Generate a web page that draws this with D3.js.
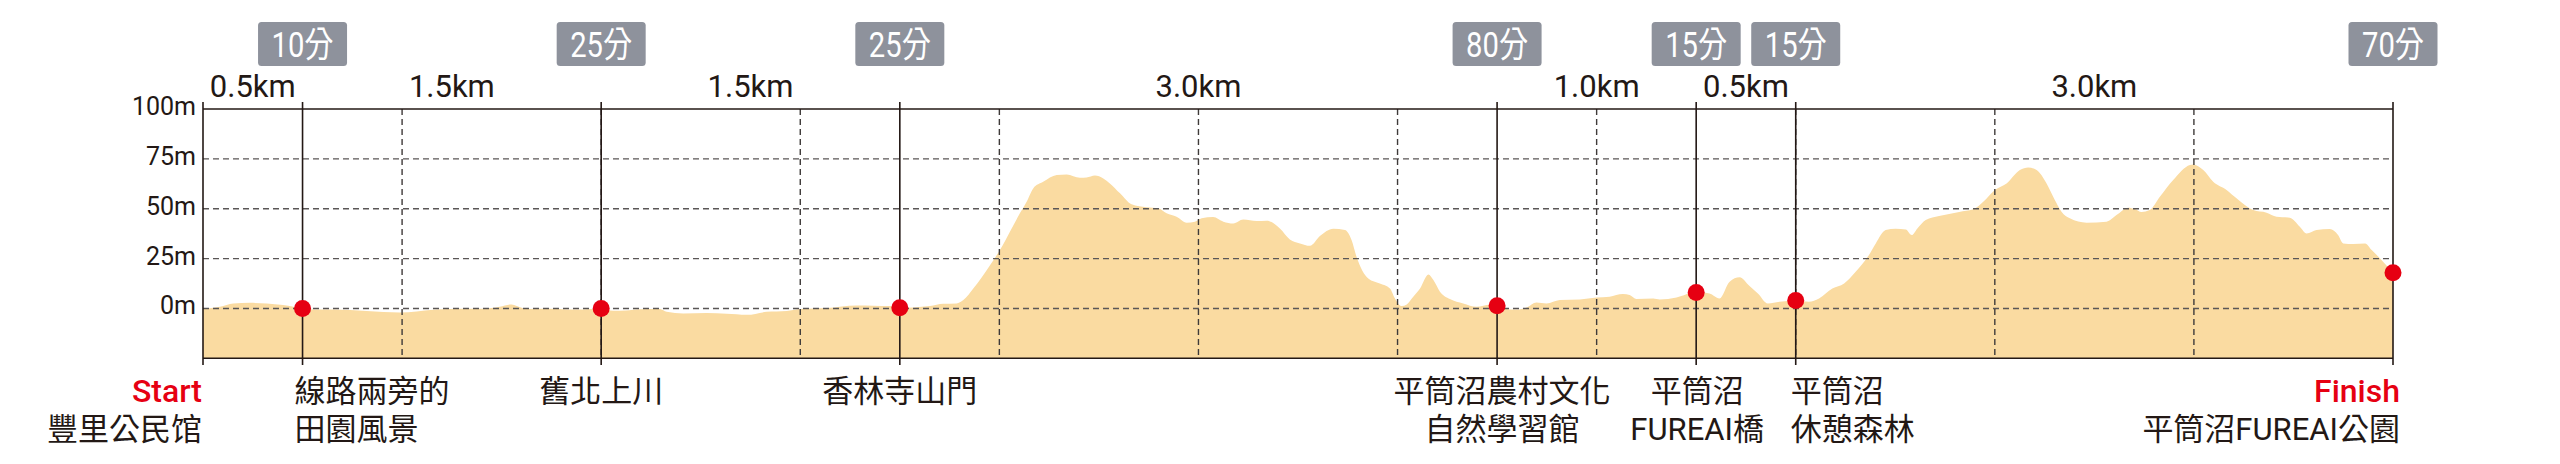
<!DOCTYPE html>
<html>
<head>
<meta charset="utf-8">
<script src="https://cdn.jsdelivr.net/npm/d3@7"></script>
<style>
  html, body { margin: 0; padding: 0; background: #ffffff; }
  svg { display: block; }
  text { font-family: Roboto, "Noto Sans CJK TC", sans-serif; }
</style>
</head>
<body>
<svg id="chart" width="2560" height="464"></svg>
<script>
// ---------------- DATA ----------------
// elevation profile: distance (km) and elevation (m)
const profileKm = [
  0.00, 0.085, 0.152, 0.236, 0.32, 0.403, 0.454, 0.50, 0.554, 0.655, 0.738, 0.822, 0.906, 0.989,
  1.073, 1.157, 1.24, 1.324, 1.408, 1.49, 1.55, 1.576, 1.626, 1.743, 1.827, 1.91, 2.0, 2.06,
  2.125, 2.195, 2.295, 2.329, 2.412, 2.53, 2.63, 2.731, 2.831, 2.932, 2.998, 3.133, 3.283, 3.367,
  3.45, 3.5, 3.568, 3.651, 3.718, 3.785, 3.819, 3.869, 3.953, 4.003, 4.053, 4.103, 4.137, 4.17,
  4.22, 4.288, 4.338, 4.405, 4.438, 4.48, 4.522, 4.555, 4.606, 4.664, 4.74, 4.798, 4.84, 4.89,
  4.941, 4.982, 5.016, 5.074, 5.125, 5.175, 5.225, 5.292, 5.343, 5.409, 5.459, 5.51, 5.56, 5.61,
  5.677, 5.736, 5.769, 5.794, 5.853, 5.911, 5.962, 5.987, 6.021, 6.046, 6.079, 6.113, 6.155, 6.18,
  6.213, 6.263, 6.33, 6.397, 6.464, 6.5, 6.564, 6.6, 6.648, 6.698, 6.748, 6.815, 6.916, 6.999,
  7.065, 7.132, 7.166, 7.2, 7.284, 7.317, 7.401, 7.5, 7.567, 7.617, 7.668, 7.718, 7.768, 7.81,
  7.86, 7.919, 8.0, 8.066, 8.117, 8.184, 8.243, 8.301, 8.368, 8.402, 8.452, 8.502, 8.553, 8.583,
  8.611, 8.653, 8.72, 8.821, 8.892, 8.942, 9.0, 9.059, 9.126, 9.168, 9.21, 9.26, 9.302, 9.335,
  9.377, 9.461, 9.561, 9.611, 9.67, 9.703, 9.737, 9.778, 9.829, 9.896, 9.98, 9.996, 10.047, 10.097,
  10.164, 10.214, 10.298, 10.365, 10.415, 10.482, 10.532, 10.566, 10.616, 10.683, 10.724, 10.75, 10.8, 10.86,
  10.893, 10.935, 11.0
];
const profileElev = [
  -0.3, 0.8, 2.5, 2.8, 2.5, 1.7, 0.8, 0.0, -0.5, -0.5, -0.8, -1.3, -1.8, -2.0,
  -1.5, -0.7, -0.3, -0.2, -0.2, 0.8, 2.0, 1.2, -0.3, -0.2, -0.5, -0.5, 0.0, -1.2,
  -1.0, -0.4, -0.3, -1.7, -2.5, -2.3, -2.7, -3.2, -1.7, -1.3, -0.3, 0.2, 1.5, 1.4,
  1.2, 0.3, 0.5, 1.2, 2.3, 2.5, 4.2, 10, 21.7, 29.3, 38.5, 47.7, 53.5, 60.2,
  63.5, 66.9, 67.2, 65.5, 65.6, 66.6, 65.2, 62.7, 57.7, 52.2, 50.7, 50.2, 47.7, 46,
  43, 43.5, 45.2, 45.8, 43.5, 42.6, 44.6, 43.8, 44, 40.1, 34.6, 32.6, 31.4, 36.3,
  40, 39.3, 34.3, 25.9, 15, 12.5, 10, 5, 1.2, 2, 5.9, 10, 17, 14.2,
  8.4, 4.7, 2.5, 0.8, 1.8, 1.5, -0.5, -0.5, 0.5, 3, 2.5, 4.2, 4.5, 5.5,
  5.9, 7.2, 6.7, 4.7, 5, 4.5, 5.5, 8.2, 7.5, 5, 13.4, 15.6, 11.2, 7.5,
  2.5, 3.3, 3.8, 3.3, 5, 10, 12.5, 18.4, 26.8, 32.6, 39.3, 40, 39.6, 36.8,
  40.1, 44.3, 46.3, 48.4, 49.7, 53.5, 59.4, 62.7, 69.4, 70.7, 69.4, 62.7, 54.3, 48.5,
  45.2, 43, 43.5, 46.8, 50.5, 49.8, 48.3, 49.3, 56, 64.4, 71.9, 72.2, 69.4, 63.5,
  59.4, 55.2, 49.3, 48, 46, 45.5, 41, 37.6, 39.3, 39.8, 36.8, 32.6, 32.3, 32.6,
  29.3, 25.1, 17.9
];

// checkpoints
const markerKm   = [0.5, 2.0, 3.5, 6.5, 7.5, 8.0, 11.0];
const markerTime = ["10分", "25分", "25分", "80分", "15分", "15分", "70分"];
const markerElev = [0.0, 0.0, 0.3, 1.3, 8.0, 4.0, 17.9];

// segment distances (between consecutive checkpoints, starting at Start)
const segmentLabels = ["0.5km", "1.5km", "1.5km", "3.0km", "1.0km", "0.5km", "3.0km"];

// place names (first entry = Start)
const placeKm    = [0, 0.5, 2.0, 3.5, 6.5, 7.5, 8.0, 11.0];
const placeLine1 = ["Start", "線路兩旁的", "舊北上川", "香林寺山門", "平筒沼農村文化", "平筒沼", "平筒沼", "Finish"];
const placeLine2 = ["豐里公民馆", "田園風景", "", "", "自然學習館", "FUREAI橋", "休憩森林", "平筒沼FUREAI公園"];

// axes
const yTicks = [100, 75, 50, 25, 0];
const yTickLabels = ["100m", "75m", "50m", "25m", "0m"];
const xGridKm = [1, 2, 3, 4, 5, 6, 7, 8, 9, 10];

// ---------------- DRAW ----------------
const svg = d3.select("#chart");
const INK = "#231815";
const RED = "#e60012";

const x = d3.scaleLinear().domain([0, 11]).range([203, 2393]);
const y = d3.scaleLinear().domain([-25, 100]).range([358.3, 109]);

const profile = profileKm.map((k, i) => ({ km: k, m: profileElev[i] }));

// area
const area = d3.area()
  .x(d => x(d.km))
  .y0(y(-25))
  .y1(d => y(d.m))
  .curve(d3.curveMonotoneX);

svg.append("path")
  .datum(profile)
  .attr("d", area)
  .attr("fill", "#fadba1");

// horizontal dashed grid
svg.append("g")
  .selectAll("line")
  .data(yTicks.filter(v => v !== 100))
  .join("line")
  .attr("x1", x(0)).attr("x2", x(11))
  .attr("y1", d => y(d)).attr("y2", d => y(d))
  .attr("stroke", "#5a5656")
  .attr("stroke-width", 1.4)
  .attr("stroke-dasharray", "6,4");

// vertical dashed grid
svg.append("g")
  .selectAll("line")
  .data(xGridKm)
  .join("line")
  .attr("x1", d => x(d)).attr("x2", d => x(d))
  .attr("y1", y(100)).attr("y2", y(-25))
  .attr("stroke", "#3e3a39")
  .attr("stroke-width", 1.4)
  .attr("stroke-dasharray", "6,4");

// frame: top & bottom solid lines
svg.append("line")
  .attr("x1", x(0)).attr("x2", x(11))
  .attr("y1", y(100)).attr("y2", y(100))
  .attr("stroke", INK).attr("stroke-width", 1.6);
svg.append("line")
  .attr("x1", x(0)).attr("x2", x(11))
  .attr("y1", y(-25)).attr("y2", y(-25))
  .attr("stroke", INK).attr("stroke-width", 1.6);

// left/right/marker vertical solid lines (extend beyond the frame)
const vLines = [0].concat(markerKm);
svg.append("g")
  .selectAll("line")
  .data(vLines)
  .join("line")
  .attr("x1", d => x(d)).attr("x2", d => x(d))
  .attr("y1", 102).attr("y2", 365)
  .attr("stroke", INK).attr("stroke-width", 1.6);

// y tick labels
svg.append("g")
  .selectAll("text")
  .data(yTicks)
  .join("text")
  .attr("x", 196)
  .attr("y", d => y(d) + 6)
  .attr("text-anchor", "end")
  .attr("font-size", 25)
  .attr("fill", INK)
  .text((d, i) => yTickLabels[i]);

// segment distance labels
const bounds = [0].concat(markerKm);
svg.append("g")
  .selectAll("text")
  .data(segmentLabels)
  .join("text")
  .attr("x", (d, i) => x((bounds[i] + bounds[i + 1]) / 2))
  .attr("y", 97)
  .attr("text-anchor", "middle")
  .attr("font-size", 31)
  .attr("fill", INK)
  .text(d => d);

// time badges
const badges = svg.append("g")
  .selectAll("g")
  .data(markerKm)
  .join("g")
  .attr("transform", d => `translate(${x(d)},0)`);
badges.append("rect")
  .attr("x", -44.5).attr("y", 22)
  .attr("width", 89).attr("height", 44)
  .attr("rx", 3.5)
  .attr("fill", "#8e929c");
badges.append("text")
  .attr("x", 0).attr("y", 57)
  .attr("text-anchor", "middle")
  .attr("font-size", 35)
  .attr("fill", "#ffffff")
  .attr("textLength", 62)
  .attr("lengthAdjust", "spacingAndGlyphs")
  .text((d, i) => markerTime[i]);

// dots
svg.append("g")
  .selectAll("circle")
  .data(markerKm)
  .join("circle")
  .attr("cx", d => x(d))
  .attr("cy", (d, i) => y(markerElev[i]))
  .attr("r", 8.5)
  .attr("fill", RED);

// place labels
const placeAnchor = ["end", "start", "middle", "middle", "middle", "middle", "start", "end"];
const placeShift  = [-1, -8, 0, 0, 5, 1, -5, 7];
const places = svg.append("g")
  .selectAll("g")
  .data(placeKm)
  .join("g")
  .attr("transform", (d, i) => `translate(${x(d) + placeShift[i]},0)`);
places.append("text")
  .attr("y", 402)
  .attr("text-anchor", (d, i) => placeAnchor[i])
  .attr("font-size", (d, i) => (i === 0 || i === placeKm.length - 1) ? 32 : 31)
  .attr("font-weight", (d, i) => (i === 0 || i === placeKm.length - 1) ? 500 : 400)
  .attr("fill", (d, i) => (i === 0 || i === placeKm.length - 1) ? RED : INK)
  .text((d, i) => placeLine1[i]);
places.append("text")
  .attr("y", 440)
  .attr("text-anchor", (d, i) => placeAnchor[i])
  .attr("font-size", 31)
  .attr("fill", INK)
  .text((d, i) => placeLine2[i]);
</script>
</body>
</html>
